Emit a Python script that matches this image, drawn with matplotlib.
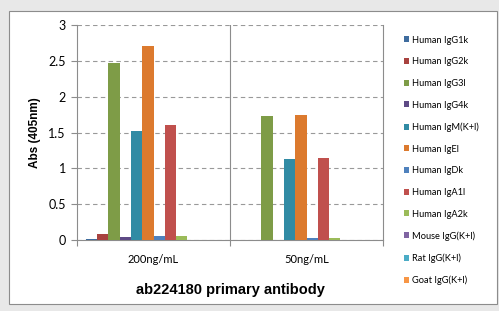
import matplotlib.pyplot as plt
import numpy as np
from matplotlib.patches import Rectangle

# ----------- Data ------------
groups = ["200ng/mL", "50ng/mL"]
series_names = ["Human IgG1k", "Human IgG2k", "Human IgG3l", "Human IgG4k",
                "Human IgM(K+l)", "Human IgEl", "Human IgDk", "Human IgA1l",
                "Human IgA2k", "Mouse IgG(K+l)", "Rat IgG(K+l)", "Goat IgG(K+l)"]
values_200 = [0.02, 0.09, 2.47, 0.04, 1.52, 2.71, 0.05, 1.60, 0.05, 0.0, 0.0, 0.0]
values_50 = [0.0, 0.0, 1.73, 0.0, 1.13, 1.75, 0.03, 1.15, 0.03, 0.0, 0.0, 0.0]
colors = ['#3F6C9E', '#A8423F', '#7E9C47', '#5E4A85', '#318BA4', '#DC7A2E',
          '#4F81BD', '#C0504D', '#9BBB59', '#8064A2', '#4BACC6', '#F79646']

title = "ab224180 primary antibody"
y_label = "Abs (405nm)"

# ----------- Plot ------------
fig = plt.figure(figsize=(4.99, 3.11), dpi=100)
fig.patch.set_facecolor('#e8e8e8')
fig.patches.append(Rectangle((9 / 499, 1 - 304 / 311), 488 / 499, 293 / 311,
                             transform=fig.transFigure, facecolor='white',
                             edgecolor='#8c8c8c', linewidth=0.8, zorder=-10))

ax = fig.add_axes([77 / 499, 71 / 311, 306 / 499, 215 / 311])
ax.set_facecolor('none')

x = np.arange(len(groups))
width = 0.074
for i, name in enumerate(series_names):
    heights = [values_200[i], values_50[i]]
    ax.bar(x + (i - 5.5) * width, heights, width=width, color=colors[i],
           label=name, zorder=3)

ax.set_xlim(-0.5, 1.5)
ax.set_ylim(0, 3)
ax.set_yticks(np.arange(0, 3.01, 0.5))
ax.set_yticklabels(['0', '0.5', '1', '1.5', '2', '2.5', '3'])
ax.yaxis.grid(True, linestyle=(0, (4, 3)), color='#999999', linewidth=0.8)
ax.set_axisbelow(True)

ax.axvline(0.5, color='#8c8c8c', linewidth=0.8, zorder=2)
for side in ['left', 'right', 'bottom']:
    ax.spines[side].set_color('#8c8c8c')
    ax.spines[side].set_linewidth(0.8)
ax.spines['top'].set_visible(False)

ax.set_xticks([-0.5, 0.5, 1.5])
ax.set_xticklabels([])
ax.set_xticks(x, minor=True)
ax.set_xticklabels(groups, minor=True, fontsize=8, family='Lato')
ax.tick_params(axis='x', which='major', length=4, color='#8c8c8c')
ax.tick_params(axis='x', which='minor', length=0, pad=10)
ax.tick_params(axis='y', length=4, color='#8c8c8c', labelsize=9, pad=4)
for lbl in ax.get_yticklabels():
    lbl.set_family('Lato')

ax.set_ylabel(y_label, fontsize=8.5, fontweight='bold', family='Liberation Sans', labelpad=5)
ax.set_xlabel(title, fontsize=10.5, fontweight='bold', family='Liberation Sans', labelpad=13)

ax.legend(loc='upper left', bbox_to_anchor=(400 / 499, 1 - 32 / 311),
          bbox_transform=fig.transFigure, frameon=False,
          prop={'family': 'Lato', 'size': 6.7}, handlelength=0.6, handleheight=0.6,
          handletextpad=0.3, labelspacing=1.36, borderaxespad=0)

fig.savefig('out.png', dpi=100, facecolor=fig.get_facecolor())
